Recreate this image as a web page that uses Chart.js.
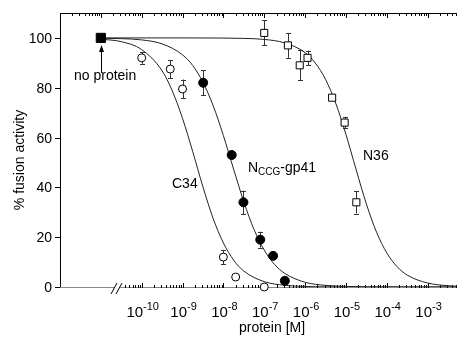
<!DOCTYPE html>
<html>
<head>
<meta charset="utf-8">
<script src="https://cdn.jsdelivr.net/npm/chart.js@4"></script>
<style>
  body { margin: 0; background: #fff; }
</style>
</head>
<body>
<canvas id="chart" width="464" height="337"></canvas>
<script>
const $ = id => document.getElementById(id);

// measured points (concentration in M, % fusion activity, +/- error)
const noProteinConc = [1e-11];
const noProteinAct  = [100];

const c34Conc = [1e-10, 5e-10, 1e-9, 1e-8, 2e-8, 1e-7];
const c34Act  = [92, 87.5, 79.5, 12, 4, 0];
const c34Err  = [2.4, 3.6, 3.8, 2.9, 0, 0];

const nccgConc = [3.2e-9, 1.6e-8, 3.1e-8, 8e-8, 1.65e-7, 3.2e-7];
const nccgAct  = [82, 53, 34, 19, 12.5, 2.5];
const nccgErr  = [5, 0, 4.7, 3.2, 0, 0];

const n36Conc = [1e-7, 3.8e-7, 7.4e-7, 1.15e-6, 4.6e-6, 9.3e-6, 1.8e-5];
const n36Act  = [102, 97, 89, 92, 76, 66, 34];
const n36Err  = [5, 5, 6, 2.9, 1, 2.3, 4.5];

// fitted curves
const c34FitConc = [1e-11, 3.16e-11, 1e-10, 3.16e-10, 5.62e-10, 1e-9, 1.78e-9, 3.16e-9, 5.62e-9, 1e-8, 1.78e-8, 3.16e-8, 1e-7, 3.16e-7, 1e-6, 3.16e-6, 1e-5, 1e-4, 1e-3, 5e-3];
const c34FitAct  = [99.5, 98.5, 95.3, 86.8, 78.7, 67.7, 54.3, 40.2, 27.5, 17.7, 10.8, 6.4, 2.15, 0.7, 0.22, 0.07, 0.02, 0, 0, 0];

const nccgFitConc = [1e-11, 3.16e-11, 1e-10, 3.16e-10, 1e-9, 1.78e-9, 3.16e-9, 5.62e-9, 1e-8, 1.78e-8, 3.16e-8, 5.62e-8, 1e-7, 1.78e-7, 3.16e-7, 1e-6, 3.16e-6, 1e-5, 1e-4, 1e-3, 5e-3];
const nccgFitAct  = [99.9, 99.7, 99.2, 97.6, 93.2, 88.9, 82.2, 72.8, 60.8, 47.3, 34.2, 23.1, 14.8, 9.1, 5.5, 1.9, 0.65, 0.22, 0.03, 0, 0];

const n36FitConc = [1e-11, 1e-9, 1e-8, 3.16e-8, 1e-7, 3.16e-7, 1e-6, 1.78e-6, 3.16e-6, 5.62e-6, 1e-5, 1.78e-5, 3.16e-5, 5.62e-5, 1e-4, 1.78e-4, 3.16e-4, 1e-3, 3.16e-3, 5e-3];
const n36FitAct  = [100, 100, 99.94, 99.8, 99.4, 98.0, 94.1, 89.9, 83.4, 73.8, 61.3, 47.1, 33.4, 22.0, 13.7, 8.2, 4.8, 1.6, 0.5, 0.3];

// axis ticks
const yTicks = [0, 20, 40, 60, 80, 100];
const xTickExps = [-10, -9, -8, -7, -6, -5, -4, -3];

const FONT = '"Liberation Sans", Arial, Helvetica, sans-serif';
const pts = (xs, ys) => xs.map((v, i) => ({x: v, y: ys[i]}));

const errBars = [
  {conc: c34Conc, act: c34Act, err: c34Err},
  {conc: nccgConc, act: nccgAct, err: nccgErr},
  {conc: n36Conc, act: n36Act, err: n36Err},
];

const axesPlugin = {
  id: 'axes',
  beforeDatasetsDraw(chart) {
    const {ctx, chartArea: a, scales: {x, y}} = chart;
    ctx.save();
    ctx.lineWidth = 1;
    ctx.strokeStyle = '#000';
    const seg = (x1, y1, x2, y2) => { ctx.beginPath(); ctx.moveTo(x1, y1); ctx.lineTo(x2, y2); ctx.stroke(); };

    // left axis + ticks
    seg(a.left + .5, a.top, a.left + .5, a.bottom + 1);
    ctx.fillStyle = '#000';
    ctx.font = '14px ' + FONT;
    ctx.textAlign = 'right';
    ctx.textBaseline = 'middle';
    yTicks.forEach(v => {
      const py = Math.round(y.getPixelForValue(v)) + .5;
      seg(a.left - 5, py, a.left, py);
      ctx.fillText(String(v), a.left - 8, py + 1);
    });

    // top frame
    seg(a.left, a.top + .5, a.right, a.top + .5);

    // bottom axis (grey), broken near the no-protein point
    ctx.strokeStyle = '#888';
    seg(a.left, a.bottom + .5, 114, a.bottom + .5);
    seg(120, a.bottom + .5, a.right, a.bottom + .5);
    ctx.strokeStyle = '#000';
    seg(111, a.bottom + 7, 117, a.bottom - 4);
    seg(116, a.bottom + 7, 122, a.bottom - 4);

    // log ticks, top (pointing down) and bottom (pointing up)
    for (let d = -12; d <= -3; d++) {
      for (let m = 1; m <= 9; m++) {
        const px = Math.round(x.getPixelForValue(m * Math.pow(10, d))) + .5;
        if (px < a.left || px > a.right) continue;
        const len = m === 1 ? 5 : 3;
        seg(px, a.top, px, a.top + len);
        if (px >= 124) seg(px, a.bottom + 1, px, a.bottom + 1 - len);
      }
    }

    // x tick labels 10^n
    ctx.textAlign = 'left';
    ctx.textBaseline = 'alphabetic';
    xTickExps.forEach(e => {
      const px = x.getPixelForValue(Math.pow(10, e));
      ctx.font = '15px ' + FONT;
      const w1 = ctx.measureText('10').width;
      ctx.font = '11px ' + FONT;
      const sup = '-' + Math.abs(e);
      const w2 = ctx.measureText(sup).width;
      const x0 = px - (w1 + w2) / 2 + 1;
      ctx.font = '15px ' + FONT;
      ctx.fillText('10', x0, 317);
      ctx.font = '11px ' + FONT;
      ctx.fillText(sup, x0 + w1, 310);
    });

    // axis titles
    ctx.font = '14px ' + FONT;
    ctx.textAlign = 'center';
    ctx.fillText('protein [M]', 272, 332);
    ctx.translate(20, 160);
    ctx.rotate(-Math.PI / 2);
    ctx.textBaseline = 'middle';
    ctx.fillText('% fusion activity', 0, 0);
    ctx.restore();

    // error bars, under the markers
    ctx.save();
    ctx.strokeStyle = '#333';
    ctx.lineWidth = 1;
    errBars.forEach(s => s.conc.forEach((c, i) => {
      if (!s.err[i]) return;
      const px = Math.round(x.getPixelForValue(c)) + .5;
      const y1 = y.getPixelForValue(s.act[i] + s.err[i]);
      const y2 = y.getPixelForValue(s.act[i] - s.err[i]);
      seg(px, y1, px, y2);
      seg(px - 2.5, Math.round(y1) + .5, px + 2.5, Math.round(y1) + .5);
      seg(px - 2.5, Math.round(y2) + .5, px + 2.5, Math.round(y2) + .5);
    }));
    ctx.restore();
  },
  afterDatasetsDraw(chart) {
    const {ctx, scales: {x, y}} = chart;
    ctx.save();
    ctx.fillStyle = '#000';
    ctx.strokeStyle = '#000';
    ctx.lineWidth = 1;
    ctx.font = '14px ' + FONT;
    ctx.textBaseline = 'alphabetic';

    // "no protein" arrow
    const ax = Math.round(x.getPixelForValue(noProteinConc[0])) + .5;
    const ay = y.getPixelForValue(noProteinAct[0]);
    ctx.beginPath(); ctx.moveTo(ax, ay + 35); ctx.lineTo(ax, ay + 12); ctx.stroke();
    ctx.beginPath(); ctx.moveTo(ax, ay + 7); ctx.lineTo(ax - 2.5, ay + 14); ctx.lineTo(ax + 2.5, ay + 14); ctx.closePath(); ctx.fill();
    ctx.textAlign = 'left';
    ctx.fillText('no protein', 74, 80);

    ctx.fillText('C34', 172, 188);
    ctx.fillText('N36', 363, 160);

    // N_CCG-gp41
    let tx = 248;
    ctx.fillText('N', tx, 172);
    tx += ctx.measureText('N').width;
    ctx.font = '10px ' + FONT;
    ctx.fillText('CCG', tx, 175);
    tx += ctx.measureText('CCG').width;
    ctx.font = '14px ' + FONT;
    ctx.fillText('-gp41', tx, 172);
    ctx.restore();
  }
};

const marker = (data, style, radius, fill) => ({
  type: 'scatter', data, showLine: false, order: 0, clip: false,
  pointStyle: style, pointRadius: radius,
  backgroundColor: fill, borderColor: '#000', borderWidth: 1
});
const curve = data => ({
  type: 'line', data, showLine: true, order: 1, pointRadius: 0,
  borderColor: '#222', borderWidth: 1, fill: false,
  cubicInterpolationMode: 'monotone'
});

new Chart($('chart'), {
  type: 'scatter',
  data: {
    datasets: [
      marker(pts(noProteinConc, noProteinAct), 'rect', 6.5, '#000'),
      marker(pts(c34Conc, c34Act), 'circle', 4, '#fff'),
      marker(pts(nccgConc, nccgAct), 'circle', 4.5, '#000'),
      marker(pts(n36Conc, n36Act), 'rect', 5, '#fff'),
      curve(pts(c34FitConc, c34FitAct)),
      curve(pts(nccgFitConc, nccgFitAct)),
      curve(pts(n36FitConc, n36FitAct)),
    ]
  },
  options: {
    responsive: false,
    animation: false,
    layout: {padding: {left: 60, right: 0, top: 13, bottom: 50}},
    plugins: {legend: {display: false}, tooltip: {enabled: false}},
    scales: {
      x: {type: 'logarithmic', min: 1e-12, max: 5.1e-3, display: false},
      y: {type: 'linear', min: 0, max: 110, display: false}
    }
  },
  plugins: [axesPlugin]
});
</script>
</body>
</html>
